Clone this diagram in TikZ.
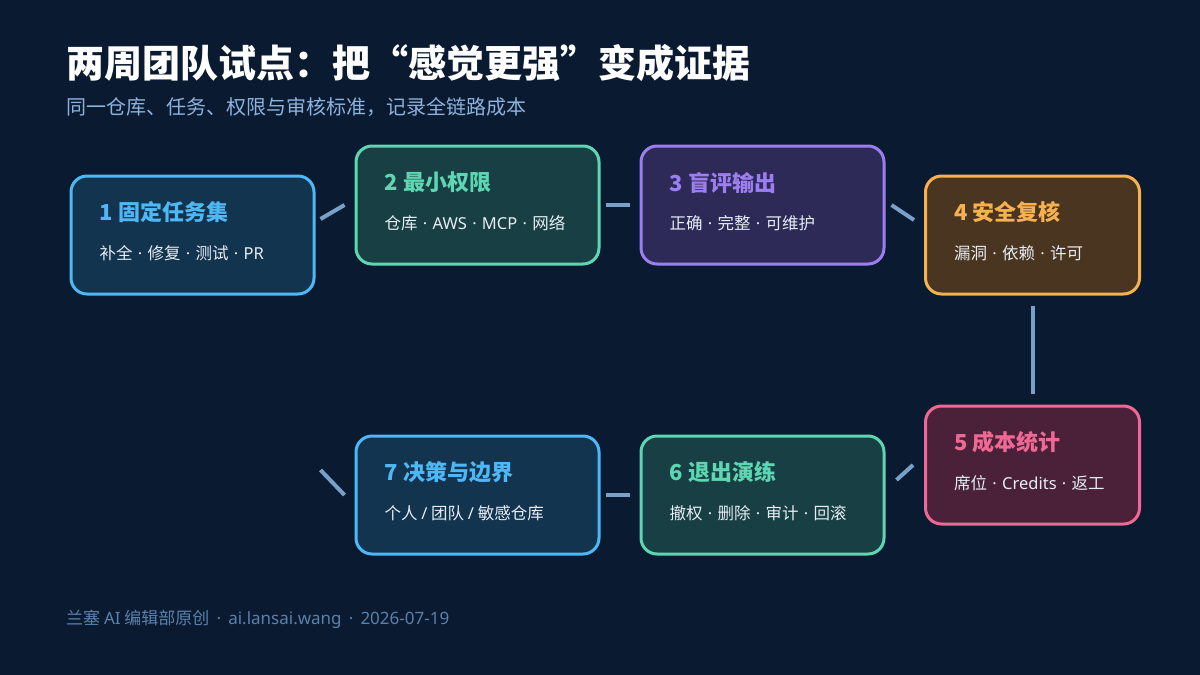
\documentclass[tikz,border=0pt]{standalone}
\usepackage{fontspec}
\setmainfont{Noto Sans CJK SC}
\newfontfamily\latfont{Noto Sans}
\newcommand{\md}{\hspace{0.32em}{\latfont ·}\hspace{0.32em}}
\newcommand{\lat}[1]{{\latfont #1}}
\usetikzlibrary{calc,positioning}
\definecolor{pilotbg}{HTML}{0A1A31}
\definecolor{pilotsub}{HTML}{8DB2DC}
\definecolor{pilotfoot}{HTML}{5A80AC}
\definecolor{pilotlink}{HTML}{79A0C8}
\definecolor{pilotbody}{HTML}{E6EDF5}
\definecolor{blueline}{HTML}{4DB8F5}
\definecolor{bluefill}{HTML}{13344F}
\definecolor{greenline}{HTML}{5ED6B2}
\definecolor{greenfill}{HTML}{173F44}
\definecolor{purpleline}{HTML}{9D7EF0}
\definecolor{purplefill}{HTML}{2D2A57}
\definecolor{orangeline}{HTML}{F7B24F}
\definecolor{orangefill}{HTML}{4A3520}
\definecolor{pinkline}{HTML}{F06894}
\definecolor{pinkfill}{HTML}{4A2139}
\tikzset{
  pilotcard/.style={draw=#1line,fill=#1fill,rounded corners=16pt,line width=3pt,
    minimum width=243pt,minimum height=118pt,inner sep=0pt},
  cardtitle/.style={anchor=west,inner sep=0pt,text=#1line,
    font=\fontsize{22}{26}\selectfont\bfseries},
  cardbody/.style={anchor=west,inner sep=0pt,text=pilotbody,
    font=\fontsize{16.5}{20}\selectfont},
  pilotlink/.style={draw=pilotlink,line width=4pt},
}

\begin{document}
\begin{tikzpicture}[x=1pt,y=-1pt]
  \fill[pilotbg] (0,0) rectangle (1200,675);
  \useasboundingbox (0,0) rectangle (1200,675);

  \node[anchor=west,inner sep=0pt,text=white,font=\fontsize{38}{45}\selectfont\bfseries]
    (title) at (66,63) {两周团队试点：把“感觉更强”变成证据};
  \node[anchor=west,inner sep=0pt,text=pilotsub,font=\fontsize{20}{24}\selectfont]
    (subtitle) at (66,107) {同一仓库、任务、权限与审核标准，记录全链路成本};

  % cards
  \node[pilotcard=blue] (b1) at (192.5,235) {};
  \node[pilotcard=green] (b2) at (477.5,205) {};
  \node[pilotcard=purple] (b3) at (762.5,205) {};
  \node[pilotcard=orange,minimum width=214pt] (b4) at (1032.5,235) {};
  \node[pilotcard=pink,minimum width=214pt] (b5) at (1032.5,465) {};
  \node[pilotcard=green] (b6) at (762.5,495) {};
  \node[pilotcard=blue] (b7) at (477.5,495) {};

  \foreach \n/\c/\t/\b in {1/blue/{1 固定任务集}/{补全\md 修复\md 测试\md\lat{PR}},
      2/green/{2 最小权限}/{仓库\md\lat{AWS}\md\lat{MCP}\md 网络},
      3/purple/{3 盲评输出}/{正确\md 完整\md 可维护},
      4/orange/{4 安全复核}/{漏洞\md 依赖\md 许可},
      5/pink/{5 成本统计}/{席位\md\lat{Credits}\md 返工},
      6/green/{6 退出演练}/{撤权\md 删除\md 审计\md 回滚},
      7/blue/{7 决策与边界}/{个人 \lat{/} 团队 \lat{/} 敏感仓库}}
    {\node[cardtitle=\c] (t\n) at ([xshift=30pt,yshift=-38pt]b\n.north west) {\t};
     \node[cardbody] (d\n) at ([xshift=30pt,yshift=-79pt]b\n.north west) {\b};}

  % links
  \coordinate (tail) at ([xshift=-34pt,yshift=25pt]b7.west);
  \draw[pilotlink] ([xshift=5pt,yshift=16pt]b1.east) -- ([xshift=-10pt]b2.west);
  \draw[pilotlink] ([xshift=5pt]b2.east) -- ([xshift=-10pt]b3.west);
  \draw[pilotlink] ([xshift=6pt]b3.east) -- ([xshift=-10pt,yshift=15pt]b4.west);
  \draw[pilotlink] ([yshift=-10pt]b4.south) -- ([yshift=11pt]b5.north);
  \draw[pilotlink] ([xshift=-11pt]b5.west) -- ([xshift=11pt,yshift=15pt]b6.east);
  \draw[pilotlink] ([xshift=-10pt]b6.west) -- ([xshift=5pt]b7.east);
  \draw[pilotlink] ([xshift=-10pt]b7.west) -- (tail);

  \node[anchor=west,inner sep=0pt,text=pilotfoot,font=\fontsize{17}{20}\selectfont]
    (footer) at (66,619) {兰塞 \lat{AI} 编辑部原创\hspace{0.1em}\md\hspace{0.1em}\lat{ai.lansai.wang}\hspace{0.1em}\md\hspace{0.1em}\lat{2026-07-19}};
\end{tikzpicture}
\end{document}
